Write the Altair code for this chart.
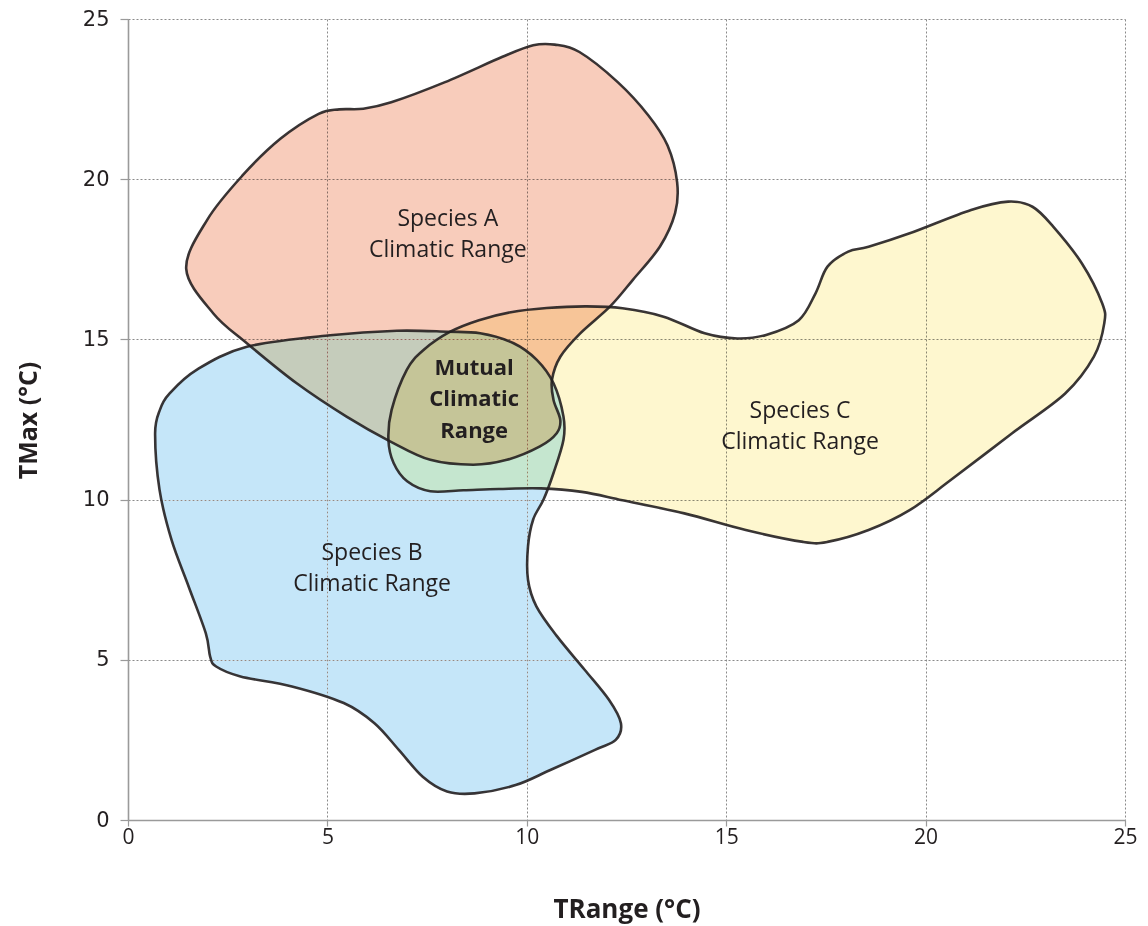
import altair as alt
import pandas as pd

# ---- Species outlines (TRange, TMax) ----
a_x = [1.46, 1.99, 2.86, 3.82, 4.78, 5.3, 5.9, 6.6, 7.95, 9.39, 10.16, 10.7, 11.32, 12.28, 13.05,
       13.53, 13.77, 13.72, 13.34, 12.66, 12.09, 11.34, 10.84, 10.63, 10.67, 10.84, 10.75, 10.33,
       9.5, 8.66, 7.58, 6.57, 5.48, 4.23, 2.98, 2.14]
a_y = [17.2, 18.74, 20.1, 21.26, 22.04, 22.18, 22.2, 22.4, 23.03, 23.82, 24.18, 24.2, 23.97, 23.03, 21.99,
       21.05, 19.9, 18.95, 17.9, 16.86, 16.03, 15.19, 14.46, 13.73, 13.11, 12.49, 12.07, 11.66,
       11.24, 11.09, 11.24, 11.82, 12.59, 13.63, 14.88, 15.81]

b_x = [0.8, 1.05, 1.72, 2.98, 5.07, 6.74, 8.0, 8.83, 9.67, 10.25, 10.67, 10.92, 10.92, 10.67, 10.42,
       10.16, 10.03, 10.03, 10.24, 10.76, 11.45, 12.06, 12.36, 12.23, 11.71, 10.59, 9.72, 8.69, 8.0,
       7.39, 6.79, 6.18, 5.41, 4.11, 2.82, 2.21, 2.06, 1.95, 1.52, 1.09, 0.79, 0.68]
b_y = [12.8, 13.32, 14.05, 14.77, 15.13, 15.27, 15.24, 15.19, 14.88, 14.36, 13.63, 12.59, 11.87, 10.83, 10.0,
       9.38, 8.54, 7.5, 6.67, 5.73, 4.69, 3.75, 3.02, 2.5, 2.19, 1.56, 1.09, 0.83, 0.89,
       1.35, 2.19, 3.02, 3.65, 4.17, 4.48, 4.79, 5.1, 5.83, 7.29, 8.75, 10.31, 12.07]

c_x = [8.08, 8.8, 9.6, 10.5, 11.5, 12.4, 13.43, 14.46, 15.28, 16.0, 16.82, 17.24, 17.54, 18.06, 18.57,
       19.6, 21.14, 22.07, 22.68, 23.2, 23.92, 24.43, 24.48, 24.22, 23.5, 22.17, 20.63, 19.6, 18.57,
       17.54, 16.93, 15.49, 13.95, 12.4, 11.38, 10.35, 9.3, 8.41, 7.58, 7.0, 6.66, 6.53, 6.61, 6.99, 7.41]
c_y = [15.24, 15.6, 15.85, 15.98, 16.03, 15.97, 15.71, 15.19, 15.03, 15.14, 15.6, 16.44, 17.27, 17.74, 17.89,
       18.31, 19.04, 19.3, 19.14, 18.52, 17.37, 16.12, 15.5, 14.46, 13.31, 12.07, 10.61, 9.67, 9.05,
       8.68, 8.68, 9.05, 9.57, 9.98, 10.24, 10.35, 10.33, 10.29, 10.26, 10.57, 11.14, 11.87, 12.8, 14.05, 14.67]

# drawing order: A, C (multiply) then B (darken) so the overlaps come out grey / green / olive
shape_names = ["Species A", "Species C", "Species B"]
shape_fills = ["#f8ccbb", "#fef7cf", "#c5e6f9"]
shape_blends = ["multiply", "multiply", "darken"]

# ---- Labels ----
label_text = ["Species A\nClimatic Range", "Species B\nClimatic Range", "Species C\nClimatic Range"]
label_x = [8.02, 6.12, 16.85]
label_y = [18.76, 8.33, 12.77]
mutual_text = ["Mutual\nClimatic\nRange"]
mutual_x = [8.68]
mutual_y = [14.11]

ticks = [0, 5, 10, 15, 20, 25]


def shape_df(name, xs, ys):
    return pd.DataFrame({"shape": name, "x": xs, "y": ys, "order": list(range(len(xs)))})


shape_pts = {"Species A": (a_x, a_y), "Species B": (b_x, b_y), "Species C": (c_x, c_y)}
dfs = [shape_df(n, *shape_pts[n]) for n in shape_names]
all_df = pd.concat(dfs, ignore_index=True)

xs = alt.Scale(domain=[0, 25], nice=False, zero=False)
ys = alt.Scale(domain=[0, 25], nice=False, zero=False)

x_axis = alt.Axis(values=ticks, title="TRange (°C)", grid=True, gridDash=[2, 2], gridColor="#8a8a8a",
                  gridWidth=1, domainColor="#9a9a9a", domainWidth=1.6, tickColor="#9a9a9a", tickSize=6,
                  tickWidth=1.2, labelFont="Open Sans", labelFontSize=21, labelColor="#231f20",
                  labelPadding=0, labelFlush=False, titleFont="Open Sans", titleFontSize=26,
                  titleFontWeight="bold", titleColor="#231f20", titleY=89, titleBaseline="middle")
y_axis = alt.Axis(values=ticks, title="TMax (°C)", grid=True, gridDash=[2, 2], gridColor="#8a8a8a",
                  gridWidth=1, domainColor="#9a9a9a", domainWidth=1.6, tickColor="#9a9a9a", tickSize=8,
                  tickWidth=1.2, labelFont="DejaVu Sans", labelFontSize=21, labelColor="#231f20",
                  labelPadding=11, labelFlush=False, titleFont="Open Sans", titleFontSize=25,
                  titleFontWeight="bold", titleColor="#231f20", titleX=-100, titleY=401,
                  titleBaseline="middle")

X = alt.X("x:Q", scale=xs, axis=x_axis)
Y = alt.Y("y:Q", scale=ys, axis=y_axis)

layers = []
for i, (fill, blend) in enumerate(zip(shape_fills, shape_blends)):
    layers.append(
        alt.Chart(dfs[i]).mark_line(interpolate="cardinal-closed", fill=fill, strokeWidth=0, blend=blend)
        .encode(x=X, y=Y, order=alt.Order("order:Q"))
    )

strokes = alt.Chart(all_df).mark_line(interpolate="cardinal-closed", stroke="#231f20", strokeWidth=2.6,
                                      strokeOpacity=0.9).encode(
    x=X, y=Y, detail="shape:N", order=alt.Order("order:Q"),
)

lab_df = pd.DataFrame({"t": label_text, "x": label_x, "y": label_y})
labels = alt.Chart(lab_df).mark_text(font="Open Sans", fontSize=23, color="#231f20", lineBreak="\n",
                                     lineHeight=31, align="center", baseline="middle").encode(
    x=X, y=Y, text="t:N")

mut_df = pd.DataFrame({"t": mutual_text, "x": mutual_x, "y": mutual_y})
mutual = alt.Chart(mut_df).mark_text(font="Open Sans", fontSize=22, fontWeight="bold", color="#231f20",
                                     lineBreak="\n", lineHeight=31.5, align="center",
                                     baseline="middle").encode(
    x=X, y=Y, text="t:N")

chart = alt.layer(*layers, strokes, labels, mutual).properties(
    width=997, height=801,
    autosize=alt.AutoSizeParams(type="none"),
    padding={"left": 120, "top": 11, "right": 15, "bottom": 105},
    background="white",
).configure_view(stroke=None)

chart.save("out.html", embed_options={"renderer": "svg", "actions": False})
